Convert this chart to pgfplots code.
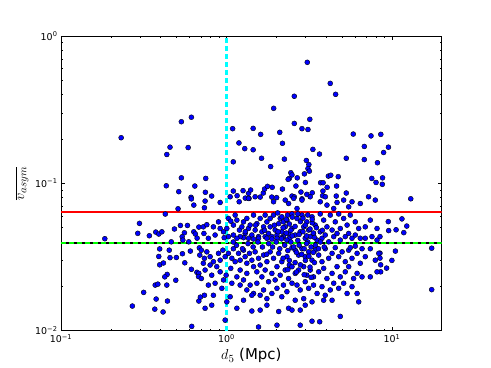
\documentclass[border=0pt]{standalone}
\usepackage{fontspec}
\setmainfont{DejaVu Sans}
\usepackage{pgfplots}
\pgfplotsset{compat=1.18}
\definecolor{mplred}{rgb}{1,0,0}
\definecolor{mplgreen}{rgb}{0,1,0}
\definecolor{mplcyan}{rgb}{0,1,1}
\definecolor{mplblue}{rgb}{0,0,1}

% scatter of v_asym against d5
\pgfplotstableread{
x y
0.231 0.204
0.614 0.281
0.534 0.262
0.456 0.176
0.587 0.175
0.436 0.157
0.534 0.109
0.433 0.0963
0.644 0.0959
0.515 0.0878
0.611 0.0804
0.614 0.0785
0.635 0.0712
0.510 0.0672
0.427 0.0619
0.298 0.0535
0.184 0.0421
0.291 0.0458
0.342 0.0441
0.374 0.0467
0.390 0.0453
0.407 0.0469
0.485 0.0490
0.527 0.0518
0.581 0.0518
0.557 0.0462
0.540 0.0434
0.635 0.0469
0.649 0.0453
0.681 0.0505
0.665 0.0425
0.464 0.0401
0.545 0.0412
0.592 0.0401
0.395 0.0359
0.451 0.0352
0.686 0.0365
0.390 0.0319
0.456 0.0313
0.498 0.0314
0.542 0.0333
0.605 0.0347
0.690 0.0326
0.395 0.0280
0.416 0.0288
0.560 0.0289
0.614 0.0261
0.663 0.0249
0.681 0.0245
0.678 0.0233
0.438 0.0241
0.424 0.0232
0.494 0.0220
0.371 0.0204
0.385 0.0207
0.436 0.0204
0.316 0.0182
0.376 0.0164
0.440 0.0159
0.681 0.0159
0.696 0.0169
0.270 0.0147
0.369 0.0140
0.414 0.0134
0.617 0.0107
3.08 0.663
4.24 0.477
4.57 0.402
2.57 0.390
1.93 0.323
1.09 0.235
1.45 0.236
1.61 0.215
2.10 0.222
2.57 0.255
2.86 0.235
3.11 0.232
3.19 0.272
1.19 0.188
1.29 0.172
1.45 0.169
2.18 0.187
1.63 0.148
1.10 0.140
2.24 0.146
1.85 0.130
0.750 0.108
2.45 0.118
2.49 0.114
2.68 0.109
2.96 0.116
3.04 0.143
3.15 0.134
3.11 0.126
3.17 0.121
2.40 0.108
5.84 0.216
7.48 0.210
8.57 0.215
6.81 0.178
9.53 0.176
8.91 0.162
3.33 0.170
3.65 0.158
5.30 0.148
6.81 0.145
8.18 0.138
4.13 0.112
4.27 0.1135
4.74 0.111
7.56 0.108
8.78 0.109
8.75 0.0985
13.0 0.0786
3.71 0.101
3.84 0.101
3.00 0.1014
2.63 0.0959
4.06 0.094
4.63 0.0959
8.02 0.1014
2.82 0.0873
3.06 0.0842
3.30 0.0863
3.83 0.0887
3.81 0.0824
3.96 0.0811
4.61 0.0820
5.30 0.086
2.49 0.0820
2.57 0.081
2.86 0.0785
0.746 0.087
0.814 0.082
1.10 0.0887
1.16 0.0824
1.26 0.0892
1.36 0.0855
1.40 0.0901
1.60 0.0807
1.67 0.086
1.70 0.0915
1.77 0.0954
1.89 0.094
1.88 0.0807
2.01 0.080
2.18 0.0915
2.36 0.1065
1.30 0.0794
1.37 0.079
11.5 0.0574
12.3 0.0513
9.51 0.055
9.56 0.0478
10.6 0.0484
11.8 0.0463
8.47 0.0435
17.4 0.0363
8.47 0.0336
10.5 0.0347
8.47 0.0311
10.0 0.030
8.55 0.028
9.29 0.0266
8.55 0.0251
17.4 0.0190
0.743 0.0758
0.916 0.0742
1.053 0.0811
1.194 0.0750
1.359 0.0791
1.491 0.0811
1.926 0.075
2.265 0.077
2.375 0.073
0.736 0.0683
0.725 0.0507
0.761 0.0524
0.834 0.0507
0.895 0.0548
0.916 0.0494
0.960 0.0469
1.028 0.0578
1.062 0.0554
1.102 0.0521
1.129 0.0609
1.156 0.0563
1.198 0.0482
1.239 0.0507
1.268 0.0548
1.297 0.0457
1.328 0.0578
1.359 0.0494
1.391 0.0521
1.424 0.0446
1.458 0.0609
1.491 0.0482
1.527 0.0533
1.563 0.0435
1.599 0.0578
1.638 0.0469
1.676 0.0507
1.714 0.0435
1.756 0.0548
1.797 0.0457
1.838 0.0507
1.882 0.0435
1.926 0.0609
1.970 0.0482
2.02 0.0446
2.07 0.0533
2.113 0.0578
2.16 0.0469
2.21 0.0435
2.265 0.0507
2.32 0.0563
2.375 0.0457
2.40 0.0424
1.563 0.0424
1.458 0.0419
1.359 0.0424
1.268 0.0428
1.21 0.0435
1.756 0.0424
1.882 0.0419
2.02 0.0424
2.16 0.0428
2.32 0.0412
2.21 0.0548
2.04 0.0630
2.16 0.0593
2.34 0.0609
1.838 0.0578
1.714 0.0609
1.156 0.0424
1.102 0.0446
1.028 0.0435
0.969 0.0428
1.005 0.0494
0.854 0.0446
0.778 0.0424
0.731 0.0457
0.705 0.0352
0.761 0.0343
0.736 0.0310
0.797 0.0318
0.834 0.0294
0.895 0.0335
0.916 0.0301
0.951 0.0352
0.982 0.0318
1.028 0.0335
1.078 0.0310
1.102 0.0360
1.129 0.0294
1.183 0.0335
1.21 0.0301
1.268 0.0352
1.297 0.0318
1.328 0.0287
1.378 0.0335
1.424 0.0301
1.458 0.0272
1.491 0.0343
1.527 0.0251
1.563 0.0310
1.599 0.0279
1.638 0.0232
1.676 0.0326
1.714 0.0258
1.756 0.0294
1.797 0.0215
1.838 0.0343
1.882 0.0245
1.926 0.0310
1.970 0.0221
2.02 0.0272
2.07 0.0335
2.113 0.0238
2.16 0.0294
2.21 0.0204
2.265 0.0258
2.32 0.0318
2.375 0.0226
2.40 0.0279
0.743 0.0258
0.705 0.0226
0.815 0.0238
0.778 0.0204
0.854 0.0210
0.916 0.0251
0.960 0.0221
0.938 0.0194
0.834 0.0174
0.736 0.0174
0.743 0.0142
0.815 0.0149
1.078 0.0210
1.156 0.0232
1.21 0.0204
1.268 0.0221
1.328 0.0189
1.391 0.0204
1.458 0.0179
1.527 0.0210
1.599 0.0174
1.676 0.0189
1.756 0.0165
1.882 0.0179
2.02 0.0194
2.16 0.0170
2.32 0.0184
1.053 0.0170
1.005 0.0157
1.268 0.0161
1.156 0.0142
0.982 0.0118
1.424 0.0136
1.599 0.0138
1.756 0.0149
2.07 0.0135
2.375 0.0142
1.563 0.0106
2.02 0.0109
1.424 0.0174
1.328 0.0245
1.21 0.0258
1.062 0.0265
0.996 0.0238
0.874 0.0272
0.797 0.0279
0.725 0.0287
2.55 0.0791
2.86 0.0770
3.209 0.0811
3.689 0.0750
4.05 0.0712
4.66 0.0742
5.11 0.077
5.74 0.075
6.441 0.073
7.23 0.0811
7.937 0.077
2.67 0.0675
4.45 0.0675
5.48 0.0693
2.49 0.0620
2.67 0.0578
2.86 0.0609
3.06 0.0548
3.29 0.0593
3.44 0.0521
3.689 0.0620
3.87 0.0563
4.05 0.0507
4.241 0.0609
4.547 0.0548
4.77 0.0620
4.875 0.0494
5.11 0.0578
5.36 0.0521
5.603 0.0609
6.007 0.0548
6.30 0.0494
6.905 0.0507
7.404 0.0563
8.13 0.0494
2.49 0.0494
2.604 0.0446
2.792 0.0469
2.93 0.0507
2.993 0.0424
3.14 0.0482
3.209 0.0435
3.36 0.0457
3.53 0.0412
3.689 0.0469
3.78 0.0424
3.955 0.0446
4.15 0.0401
4.35 0.0482
4.45 0.0435
4.66 0.0457
4.875 0.0412
5.226 0.0435
5.48 0.0457
5.74 0.0424
6.007 0.0446
6.441 0.0424
6.905 0.0424
7.58 0.0435
8.13 0.0412
2.49 0.0366
2.604 0.0352
2.73 0.0326
2.86 0.0360
2.993 0.0318
3.14 0.0343
3.29 0.0301
3.44 0.0352
3.61 0.0326
3.78 0.0294
3.955 0.0360
4.15 0.0310
4.35 0.0335
4.547 0.0366
4.77 0.0318
5.00 0.0343
5.226 0.0294
5.48 0.0352
5.74 0.0310
6.16 0.0335
6.441 0.0287
6.905 0.0318
7.404 0.0360
7.937 0.0301
8.33 0.0335
5.603 0.0366
6.007 0.0375
6.60 0.0360
2.49 0.0272
2.604 0.0245
2.73 0.0258
2.93 0.0272
3.06 0.0238
3.209 0.0258
3.36 0.0232
3.61 0.0251
3.87 0.0265
4.05 0.0226
4.35 0.0245
4.66 0.0272
4.875 0.0232
5.226 0.0251
5.48 0.0272
5.87 0.0226
6.16 0.0245
6.60 0.0232
7.404 0.0232
8.13 0.0251
2.49 0.0210
2.67 0.0204
2.792 0.0189
2.993 0.0215
3.14 0.0194
3.36 0.0204
3.53 0.0179
3.78 0.0199
3.955 0.0174
4.241 0.0189
4.45 0.0210
4.77 0.0194
5.11 0.0210
5.36 0.0179
5.74 0.0199
6.16 0.0179
6.30 0.0157
4.35 0.0161
3.87 0.0161
3.29 0.0157
2.93 0.0165
2.604 0.0161
2.993 0.0149
2.792 0.0138
2.49 0.0138
4.875 0.0125
3.29 0.0116
3.66 0.0115
2.792 0.0109
2.2 0.050
2.3 0.046
2.4 0.053
2.5 0.044
2.6 0.051
2.7 0.041
2.8 0.055
2.9 0.047
3.0 0.052
3.1 0.040
3.2 0.049
3.3 0.054
3.4 0.043
3.5 0.050
2.25 0.038
2.35 0.035
2.45 0.040
2.55 0.037
2.65 0.034
2.75 0.038
2.85 0.033
2.95 0.036
3.05 0.039
3.15 0.032
3.25 0.037
3.35 0.034
3.45 0.038
3.6 0.036
2.1 0.036
2.0 0.040
1.9 0.037
2.2 0.031
2.4 0.030
2.6 0.029
2.8 0.028
3.0 0.030
3.2 0.027
3.4 0.029
2.3 0.057
2.5 0.059
2.7 0.062
2.9 0.058
3.1 0.061
3.3 0.057
2.15 0.042
2.45 0.048
2.75 0.045
3.05 0.044
3.35 0.046
2.05 0.047
1.95 0.052
3.7 0.040
3.8 0.048
3.9 0.037
2.65 0.025
2.95 0.024
2.35 0.026
3.25 0.023
1.8 0.039
1.7 0.048
1.75 0.033
1.65 0.037
1.55 0.040
1.45 0.037
1.35 0.039
1.25 0.036
1.15 0.038
1.1 0.040
1.3 0.047
1.5 0.052
}\points

\begin{document}
\begin{tikzpicture}
\useasboundingbox (-61bp,-37.3bp) rectangle (430bp,330.7bp);
\begin{axis}[
    at={(0,0)}, anchor=south west,
    scale only axis,
    width=380.7bp, height=294.7bp,
    xmode=log, ymode=log,
    xmin=0.1, xmax=20, ymin=0.01, ymax=1,
    axis line style={line width=0.8bp},
    tick align=inside,
    major tick length=4bp, minor tick length=2bp,
    every tick/.style={black, line width=0.5bp},
    xtick={0.1,1,10},
    xticklabels={10\textsuperscript{−1},10\textsuperscript{0},10\textsuperscript{1}},
    ytick={0.01,0.1,1},
    yticklabels={10\textsuperscript{−2},10\textsuperscript{−1},10\textsuperscript{0}},
    minor xtick={0.2,0.3,0.4,0.5,0.6,0.7,0.8,0.9,2,3,4,5,6,7,8,9,20},
    minor ytick={0.02,0.03,0.04,0.05,0.06,0.07,0.08,0.09,0.2,0.3,0.4,0.5,0.6,0.7,0.8,0.9},
    tick label style={font=\fontsize{9.5}{10}\selectfont},
    xlabel={$d_5$ (Mpc)},
    ylabel={$\overline{v_{asym}}$},
    label style={font=\fontsize{15}{17}\selectfont},
    xlabel style={at={(axis description cs:0.5,-0.085)}, anchor=center},
    ylabel style={at={(axis description cs:-0.102,0.5)}, anchor=center},
]

\addplot[only marks, mark=*, mark size=2.5bp,
    mark options={fill=mplblue, draw=black, line width=0.4bp}] table {\points};

\addplot[mplred, line width=2.5bp] coordinates {(0.1,0.064) (20,0.064)};
\addplot[black, line width=1.6bp] coordinates {(0.1,0.0395) (20,0.0395)};
\addplot[mplgreen, line width=2.5bp, dash pattern=on 5bp off 3bp] coordinates {(0.1,0.0395) (20,0.0395)};
\addplot[mplcyan, line width=2.5bp, dash pattern=on 5bp off 3bp] coordinates {(1,0.01) (1,1)};

\end{axis}
\end{tikzpicture}
\end{document}
